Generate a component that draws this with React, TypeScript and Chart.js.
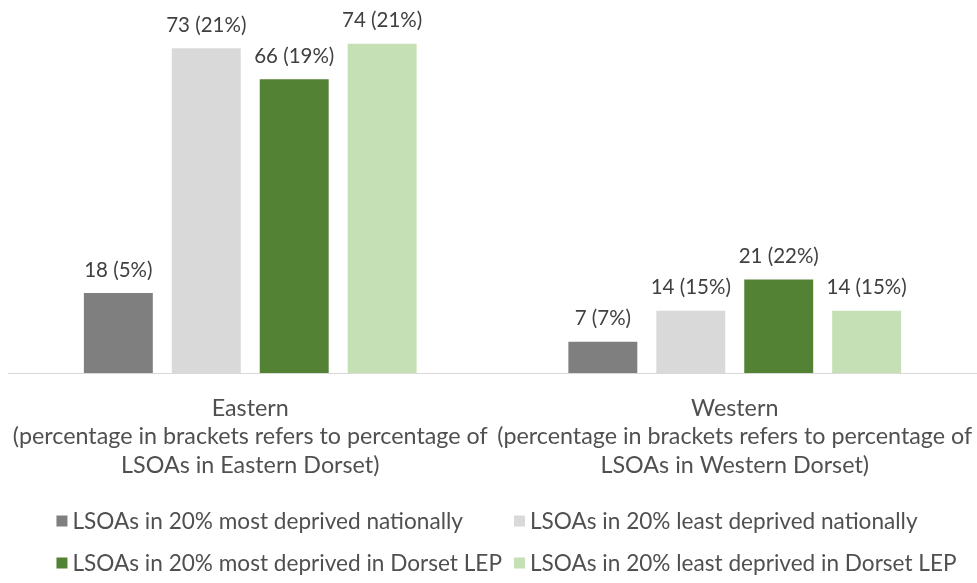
import React, { useEffect, useRef } from "react";
import { Chart, registerables } from "chart.js";

Chart.register(...registerables);

const categories: string[][] = [
  ["Eastern", "(percentage in brackets refers to percentage of", "LSOAs in Eastern Dorset)"],
  ["Western", "(percentage in brackets refers to percentage of", "LSOAs in Western Dorset)"],
];
const seriesNames = [
  "LSOAs in 20% most deprived nationally",
  "LSOAs in 20% least deprived nationally",
  "LSOAs in 20% most deprived in Dorset LEP",
  "LSOAs in 20% least deprived in Dorset LEP",
];
const mostDeprivedNational = [18, 7];
const leastDeprivedNational = [73, 14];
const mostDeprivedLEP = [66, 21];
const leastDeprivedLEP = [74, 14];
const pctMostDeprivedNational = [5, 7];
const pctLeastDeprivedNational = [21, 15];
const pctMostDeprivedLEP = [19, 22];
const pctLeastDeprivedLEP = [21, 15];

const colors = ["#7f7f7f", "#d9d9d9", "#548235", "#c5e0b4"];
const FONT = "Lato";
const TEXT = "#505050";

const dataLabelPlugin = {
  id: "dataLabels",
  afterDatasetsDraw(chart: any) {
    const ctx = chart.ctx;
    ctx.save();
    ctx.font = `20.5px ${FONT}`;
    ctx.fillStyle = "#404040";
    ctx.textAlign = "center";
    ctx.textBaseline = "middle";
    chart.data.datasets.forEach((ds: any, i: number) => {
      const meta = chart.getDatasetMeta(i);
      meta.data.forEach((bar: any, j: number) => {
        const txt = `${ds.data[j]} (${ds.pct[j]}%)`;
        ctx.fillText(txt, bar.x, bar.y - 23);
      });
    });
    ctx.restore();
  },
};

const gridLegendPlugin = {
  id: "gridLegend",
  afterDraw(chart: any) {
    const ctx = chart.ctx;
    ctx.save();
    ctx.font = `22.6px ${FONT}`;
    ctx.textBaseline = "middle";
    ctx.textAlign = "left";
    const box = 11;
    const gapText = 5;
    const colGap = 12;
    const ds = chart.data.datasets;
    const w = (k: number) => box + gapText + ctx.measureText(ds[k].label).width;
    const col1 = Math.max(w(0), w(2));
    const col2 = Math.max(w(1), w(3));
    const total = col1 + colGap + col2;
    const cx = (chart.chartArea.left + chart.chartArea.right) / 2 + 14;
    const x0 = cx - total / 2;
    const x1 = x0 + col1 + colGap;
    const rows = [521, 563];
    ds.forEach((d: any, k: number) => {
      const x = k % 2 === 0 ? x0 : x1;
      const y = rows[Math.floor(k / 2)];
      ctx.fillStyle = d.backgroundColor;
      ctx.fillRect(x, y - box / 2, box, box);
      ctx.fillStyle = TEXT;
      ctx.fillText(d.label, x + box + gapText, y + 1);
    });
    ctx.restore();
  },
};

export default function App() {
  const ref = useRef<HTMLCanvasElement>(null);
  useEffect(() => {
    if (!ref.current) return;
    const values = [mostDeprivedNational, leastDeprivedNational, mostDeprivedLEP, leastDeprivedLEP];
    const pcts = [pctMostDeprivedNational, pctLeastDeprivedNational, pctMostDeprivedLEP, pctLeastDeprivedLEP];
    const chart = new Chart(ref.current, {
      type: "bar",
      data: {
        labels: categories as any,
        datasets: seriesNames.map((name, i) => ({
          label: name,
          data: values[i],
          pct: pcts[i],
          backgroundColor: colors[i],
          borderWidth: 0,
          categoryPercentage: 0.726,
          barPercentage: 0.784,
        })) as any,
      },
      options: {
        animation: false,
        responsive: false,
        maintainAspectRatio: false,
        layout: { padding: { left: 8, right: 0, top: 17, bottom: 105 } },
        plugins: {
          legend: { display: false },
          tooltip: { enabled: false },
        },
        scales: {
          x: {
            grid: { display: false, drawTicks: false },
            border: { display: true, color: "#d9d9d9", width: 1 },
            ticks: {
              color: TEXT,
              font: { family: FONT, size: 23.3, lineHeight: 1.22 },
              padding: 21,
              maxRotation: 0,
              autoSkip: false,
            },
            afterFit(scale: any) {
              scale.height = 105;
              scale.paddingLeft = 0;
              scale.paddingRight = 0;
            },
          },
          y: {
            display: false,
            min: 0,
            max: 80,
          },
        },
      },
      plugins: [dataLabelPlugin, gridLegendPlugin],
    });
    return () => chart.destroy();
  }, []);
  return (
    <div style={{ position: "fixed", left: 0, top: 0, width: 977, height: 583, background: "#fff" }}>
      <canvas ref={ref} width={977} height={583} style={{ width: 977, height: 583 }} />
    </div>
  );
}
